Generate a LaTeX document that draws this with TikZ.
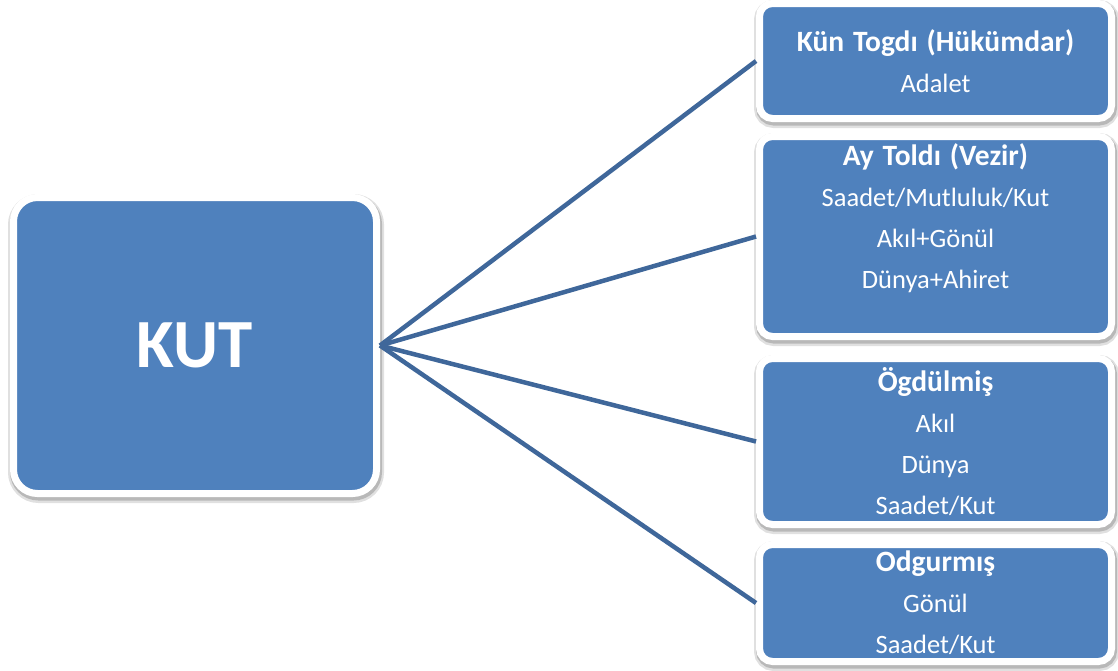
\documentclass[tikz,border=0pt]{standalone}
\usepackage{fontspec}
\setmainfont{Carlito}
\usetikzlibrary{shadows}

\definecolor{boxblue}{RGB}{79,129,189}
\definecolor{linkblue}{RGB}{63,103,154}

\newcommand{\boxhead}[1]{{\bfseries\fontsize{29.5}{41}\selectfont #1}}

\begin{document}
\begin{tikzpicture}[x=1pt, y=-1pt,
    card/.style={fill=boxblue, draw=white, line width=7pt, text=white,
        drop shadow={shadow xshift=1pt, shadow yshift=-3pt, opacity=0.12,
            fill=black, draw=black, line width=13pt},
        drop shadow={shadow xshift=1pt, shadow yshift=-2.5pt, opacity=0.18,
            fill=black, draw=black, line width=9pt},
        align=center, inner sep=0pt},
    subcard/.style={card, rounded corners=13pt, text width=340pt,
        minimum width=352pt, font=\fontsize{26.5}{41}\selectfont},
    link/.style={draw=linkblue, line width=4.5pt}]
    \useasboundingbox (0,0) rectangle (1118,670);

    % main box
    \node[card, rounded corners=24pt, minimum width=363pt, minimum height=296pt,
        font=\bfseries\fontsize{69}{80}\selectfont] (kut) at (195,345.5) {KUT};

    % right column
    \node[subcard, minimum height=115pt] (kun) at (935.5,61) {
        \boxhead{Kün Togdı (Hükümdar)}\\
        Adalet
    };
    \node[subcard, minimum height=200pt] (ay) at (935.5,236.5) {
        \boxhead{Ay Toldı (Vezir)}\\
        Saadet/Mutluluk/Kut\\
        Akıl+Gönül\\
        Dünya+Ahiret\\
        \mbox{}
    };
    \node[subcard, minimum height=166pt] (ogdulmis) at (935.5,441.5) {
        \boxhead{Ögdülmiş}\\
        Akıl\\
        Dünya\\
        Saadet/Kut
    };
    \node[subcard, minimum height=117pt] (odgurmis) at (935.5,603) {
        \boxhead{Odgurmış}\\
        Gönül\\
        Saadet/Kut
    };

    % connectors
    \draw[link] (kut.east) -- (kun.west);
    \draw[link] (kut.east) -- (ay.west);
    \draw[link] (kut.east) -- (ogdulmis.west);
    \draw[link] (kut.east) -- (odgurmis.west);
\end{tikzpicture}
\end{document}
